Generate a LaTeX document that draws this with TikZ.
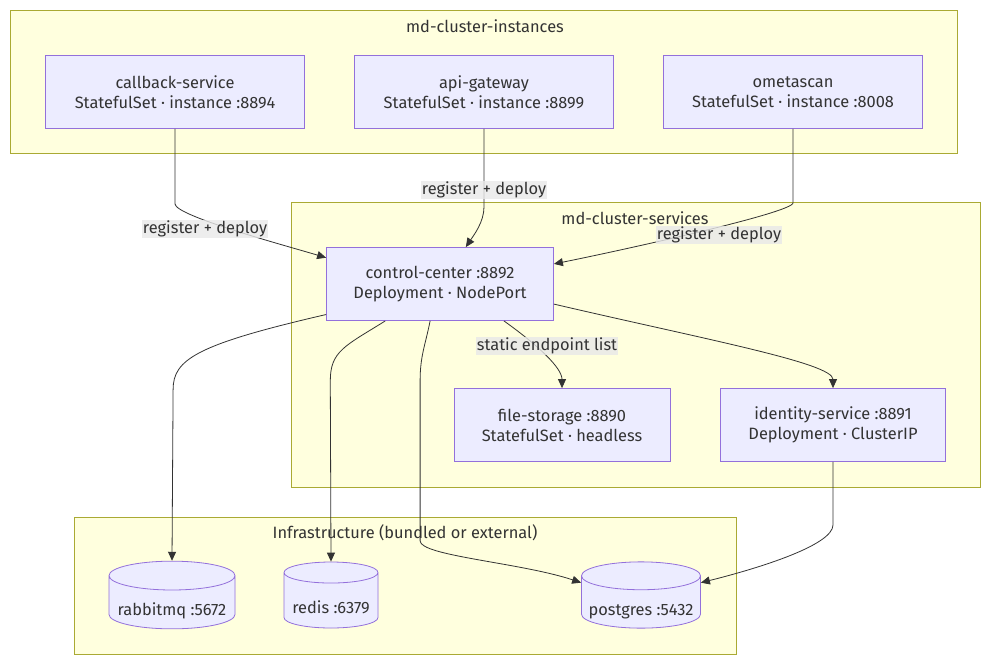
\documentclass[tikz,border=0pt]{standalone}
\usepackage{fontspec}
\setmainfont{Fira Sans}
\usetikzlibrary{arrows.meta,shapes.geometric}

\definecolor{clfill}{HTML}{FFFFDE}
\definecolor{cldraw}{HTML}{AAAA33}
\definecolor{ndfill}{HTML}{ECECFF}
\definecolor{nddraw}{HTML}{9370DB}
\definecolor{ink}{HTML}{333333}
\definecolor{lblbg}{HTML}{E8E8E8}

\tikzset{
  cluster/.style={draw=cldraw,fill=clfill,line width=0.8pt},
  cltitle/.style={text=ink,font=\fontsize{16.4}{20}\selectfont,anchor=center},
  svc/.style={draw=nddraw,fill=ndfill,line width=0.8pt,text=ink,
    font=\fontsize{16.4}{20}\selectfont,align=center,minimum height=73pt},
  db/.style={cylinder,shape border rotate=90,aspect=0.25,draw=nddraw,
    fill=ndfill,cylinder uses custom fill,cylinder body fill=ndfill,
    cylinder end fill=ndfill,line width=0.8pt,text=ink,
    font=\fontsize{16.4}{20}\selectfont,minimum height=66pt,
    text height=22pt,text depth=0pt,anchor=shape center},
  flow/.style={draw=ink,line width=0.8pt,->},
  lbl/.style={fill=lblbg,fill opacity=0.8,text opacity=1,text=ink,
    font=\fontsize{16.4}{20}\selectfont,inner sep=1pt}
}

\begin{document}
\begin{tikzpicture}[x=1pt,y=-1pt,>={Triangle[length=9pt,width=8pt]}]
  \useasboundingbox (0,0) rectangle (990,664);
  % clusters
  \draw[cluster] (10,10) rectangle (957,153);
  \node[cltitle] (tinst) at (485,26) {md-cluster-instances};
  \draw[cluster] (291,202) rectangle (980,487);
  \node[cltitle] (tsvc) at (635,218) {md-cluster-services};
  \draw[cluster] (74,517) rectangle (736,654);
  \node[cltitle] (tinfra) at (405,533) {Infrastructure (bundled or external)};

  % instances
  \node[svc,minimum width=259pt] (callback) at (175,92)
    {callback-service\\StatefulSet · instance :8894};
  \node[svc,minimum width=259pt] (gateway) at (484,92)
    {api-gateway\\StatefulSet · instance :8899};
  \node[svc,minimum width=259pt] (ometa) at (793,92)
    {ometascan\\StatefulSet · instance :8008};

  % services
  \node[svc,minimum width=227pt] (cc) at (440,284)
    {control-center :8892\\Deployment · NodePort};
  \node[svc,minimum width=216pt] (files) at (562,425)
    {file-storage :8890\\StatefulSet · headless};
  \node[svc,minimum width=225pt] (ident) at (833,425)
    {identity-service :8891\\Deployment · ClusterIP};

  % infrastructure
  \node[db,minimum width=126pt] (rabbit) at (172,595) {rabbitmq :5672};
  \node[db,minimum width=94pt] (redis) at (331,595) {redis :6379};
  \node[db,minimum width=119pt] (pg) at (641,595) {postgres :5432};

  % edges
  \draw[flow] (callback.south) -- ++(0,75)
    .. controls +(0,12) and +(-40,-12) .. (cc.167);
  \draw[flow] (gateway.south) -- ++(0,78)
    .. controls +(0,15) and +(8,-12) .. (cc.55);
  \draw[flow] (ometa.south) -- ++(0,74)
    .. controls +(0,10) and +(60,-12) .. (cc.10);
  \draw[flow] (cc.-30) .. controls +(35,25) and +(0,-20) .. (files.north);
  \draw[flow] (cc.-10) .. controls +(150,35) and +(0,-25) .. (ident.north);
  \draw[flow] (cc.195) .. controls +(-130,30) and +(0,-30) .. ++(-153,75)
    -- (rabbit.north);
  \draw[flow] (cc.214) .. controls +(-40,25) and +(0,-30) .. ++(-55,60)
    -- (redis.north);
  \draw[flow] (cc.255) .. controls +(-5,25) and +(0,-25) .. ++(-10,60)
    -- ++(0,160) .. controls +(0,15) and +(-60,-20) .. (pg.160);
  \draw[flow] (ident.south) -- ++(0,63)
    .. controls +(0,20) and +(60,-15) .. (pg.20);

  % edge labels
  \node[lbl] (l1) at (205,229) {register + deploy};
  \node[lbl] (l2) at (484,190) {register + deploy};
  \node[lbl] (l3) at (719,235) {register + deploy};
  \node[lbl] (l4) at (547,346) {static endpoint list};
\end{tikzpicture}
\end{document}
